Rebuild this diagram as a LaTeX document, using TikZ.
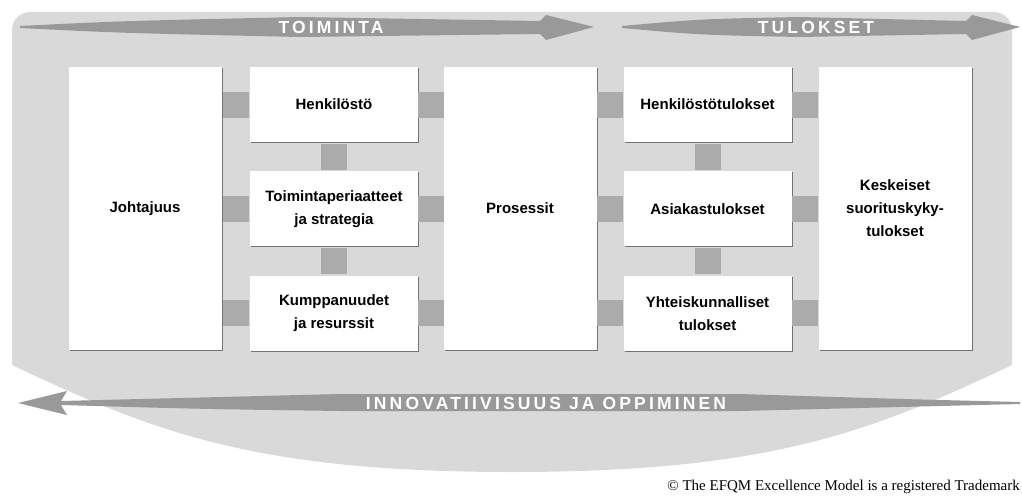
\documentclass[tikz,border=0pt]{standalone}
\usepackage{fontspec}
\setmainfont{Liberation Sans}
\newfontfamily\tmfont{Liberation Serif}
\usepackage{xcolor}
\usetikzlibrary{positioning,calc,shadows}

\begin{document}
\begin{tikzpicture}[x=1pt,y=-1pt,node distance=29pt,
 box/.style={fill=white,align=center,inner sep=2pt,font=\fontsize{15}{23}\selectfont\bfseries,
  drop shadow={shadow xshift=1pt,shadow yshift=-1pt,fill=black!55,opacity=1}},
 tall/.style={box,minimum width=153pt,minimum height=283pt},
 mid/.style={box,minimum width=168pt,minimum height=75pt},
 link/.style={fill=black!33,minimum width=26pt,minimum height=26pt,inner sep=0pt},
 band/.style={fill=black!40},
 bandtext/.style={text=white,inner sep=0pt,font=\fontsize{17.5}{17.5}\selectfont\bfseries\addfontfeature{LetterSpace=18}}]
\useasboundingbox (0,0) rectangle (1022,498);
\fill[black!15] (12,365) -- (12,30) arc (180:270:18) -- (994,12) arc (270:360:18) -- (1012,365)
 .. controls (874,430) and (774,472) .. (512,472) .. controls (250,472) and (150,430) .. (12,365) -- cycle;
\fill[band] (20,26) .. controls (120,21) .. (300,17) -- (540,21) -- (546,15) -- (594,27) -- (546,40)
 -- (540,34) -- (300,37) .. controls (120,33) .. (20,28) -- cycle;
\fill[band] (622,26) .. controls (700,19) .. (800,17) -- (966,21) -- (972,15) -- (1020,27) -- (972,40)
 -- (966,34) -- (800,37) .. controls (700,35) .. (622,28) -- cycle;
\fill[band] (18,403) -- (67,391) -- (61,401) .. controls (200,397) .. (340,394) -- (740,394)
 .. controls (900,399) .. (1020,402) -- (1020,404) .. controls (900,407) .. (740,411) -- (340,411)
 .. controls (200,409) .. (61,405) -- (67,415) -- cycle;
\node[bandtext] (toiminta) at (331,27) {TOIMINTA};
\node[bandtext] (tulokset) at (816,27) {TULOKSET};
\node[bandtext] (oppiminen) at (546,403) {INNOVATIIVISUUS JA OPPIMINEN};
\node[tall] (johtajuus) at (145,208.5) {Johtajuus};
\node[mid] (henkilosto) at (334,104.5) {Henkilöstö};
\node[mid,below=of henkilosto] (strategia) {Toimintaperiaatteet\\ja strategia};
\node[mid,below=of strategia] (resurssit) {Kumppanuudet\\ja resurssit};
\node[tall] (prosessit) at (520,208.5) {Prosessit};
\node[mid] (henktulokset) at (707.5,104.5) {Henkilöstötulokset};
\node[mid,below=of henktulokset] (asiakas) {Asiakastulokset};
\node[mid,below=of asiakas] (yhteis) {Yhteiskunnalliset\\tulokset};
\node[tall] (keskeiset) at (895,208.5) {Keskeiset\\suorituskyky-\\tulokset};
\node[link] (jh) at ($(johtajuus.east|-henkilosto)!.5!(henkilosto.west)$) {};
\node[link] (js) at ($(johtajuus.east|-strategia)!.5!(strategia.west)$) {};
\node[link] (jr) at ($(johtajuus.east|-resurssit)!.5!(resurssit.west)$) {};
\node[link] (hp) at ($(henkilosto.east)!.5!(prosessit.west|-henkilosto)$) {};
\node[link] (sp) at ($(strategia.east)!.5!(prosessit.west|-strategia)$) {};
\node[link] (rp) at ($(resurssit.east)!.5!(prosessit.west|-resurssit)$) {};
\node[link] (hs) at ($(henkilosto.south)!.5!(strategia.north)$) {};
\node[link] (sr) at ($(strategia.south)!.5!(resurssit.north)$) {};
\node[link] (ph) at ($(prosessit.east|-henktulokset)!.5!(henktulokset.west)$) {};
\node[link] (pa) at ($(prosessit.east|-asiakas)!.5!(asiakas.west)$) {};
\node[link] (py) at ($(prosessit.east|-yhteis)!.5!(yhteis.west)$) {};
\node[link] (hk) at ($(henktulokset.east)!.5!(keskeiset.west|-henktulokset)$) {};
\node[link] (ak) at ($(asiakas.east)!.5!(keskeiset.west|-asiakas)$) {};
\node[link] (yk) at ($(yhteis.east)!.5!(keskeiset.west|-yhteis)$) {};
\node[link] (ha) at ($(henktulokset.south)!.5!(asiakas.north)$) {};
\node[link] (ay) at ($(asiakas.south)!.5!(yhteis.north)$) {};
\node[anchor=east,inner sep=0pt,font=\tmfont\fontsize{15}{15}\selectfont] (tm) at (1020,487)
 {\textcopyright{} The EFQM Excellence Model is a registered Trademark};
\end{tikzpicture}
\end{document}
